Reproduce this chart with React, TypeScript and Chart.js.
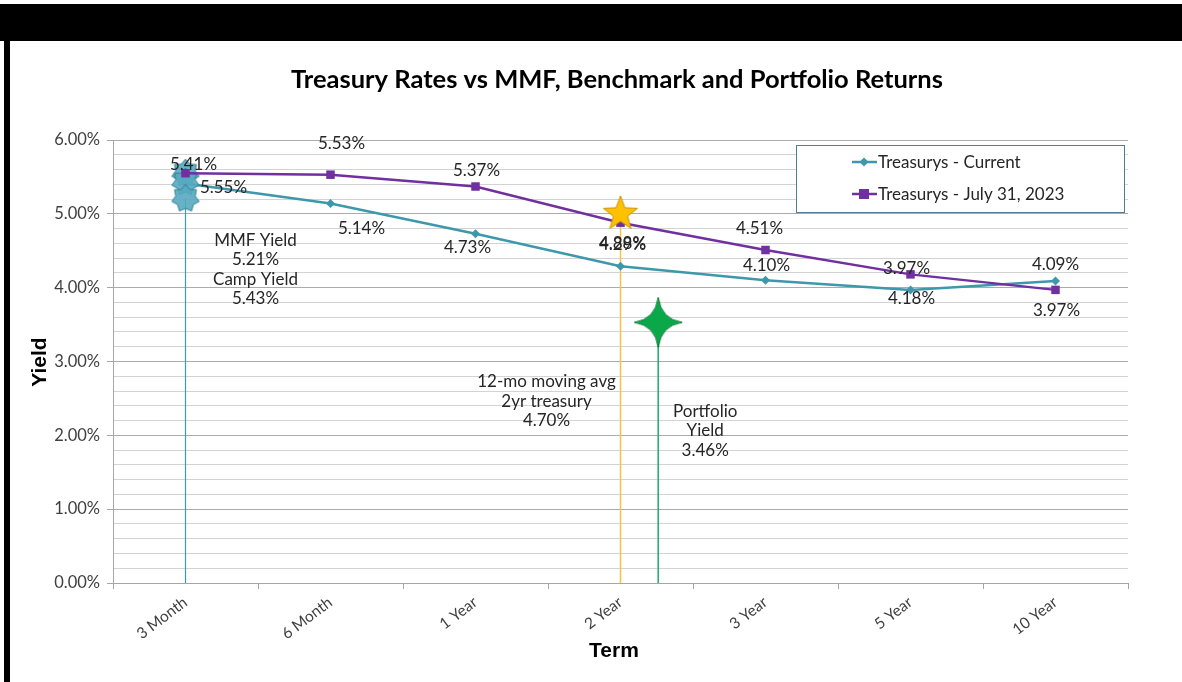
import React, { useEffect, useRef } from 'react';
import { Chart, registerables } from 'chart.js';

Chart.register(...registerables);

// ---------- data ----------
const categories = ['3 Month', '6 Month', '1 Year', '2 Year', '3 Year', '5 Year', '10 Year'];
const treasurysCurrent = [5.41, 5.14, 4.73, 4.29, 4.10, 3.97, 4.09];
const treasurysJuly2023 = [5.55, 5.53, 5.37, 4.88, 4.51, 4.18, 3.97];
const currentLabels = ['5.55%', '5.14%', '4.73%', '4.29%', '4.10%', '4.18%', '4.09%'];
const julyLabels = ['5.41%', '5.53%', '5.37%', '4.88%', '4.51%', '3.97%', '3.97%'];

// MMF / Camp markers at the 3 Month term
const mmfTerm = 0;
const mmfMarkers = [5.55, 5.43, 5.21];
const mmfText = ['MMF Yield', '5.21%', 'Camp Yield', '5.43%'];

// 12-mo moving average of the 2yr treasury (benchmark)
const benchTerm = 3;
const benchMarker = 5.0;
const benchText = ['12-mo moving avg', '2yr treasury', '4.70%'];

// Portfolio yield
const portTerm = 3.26;
const portMarker = 3.53;
const portText = ['Portfolio', 'Yield', '3.46%'];

const yMin = 0;
const yMax = 6;
const yMinorStep = 0.2;

const seriesNames = ['Treasurys - Current', 'Treasurys - July 31, 2023'];
const titleText = 'Treasury Rates vs MMF, Benchmark and Portfolio Returns';
const xTitle = 'Term';
const yTitle = 'Yield';

// ---------- layout / style ----------
const currentLabelOffsets = [[38, 4], [31, 25], [-8, 14], [2, -22], [1, -15], [1, 9], [0, -17]];
const julyLabelOffsets = [[8, -9], [11, -31], [1, -16], [2, 21], [-6, -21], [-4, -6], [1, 21]];

const TEAL = '#3E98AC';
const PURPLE = '#7030A0';
const FONT_FAMILY = 'Lato, "Open Sans", sans-serif';
const LABEL_FONT = '17px ' + FONT_FAMILY;
const TEXT_COLOR = '#262626';

function makeStar(points: number, rx: number, ry: number, inner: number, fill: string, stroke: string) {
  const w = Math.ceil(rx * 2 + 4);
  const h = Math.ceil(ry * 2 + 4);
  const c = document.createElement('canvas');
  c.width = w;
  c.height = h;
  const g = c.getContext('2d')!;
  g.translate(w / 2, h / 2);
  g.beginPath();
  const n = points * 2;
  for (let i = 0; i < n; i++) {
    const a = -Math.PI / 2 + (i * Math.PI) / points;
    const outer = i % 2 === 0;
    const x = Math.cos(a) * (outer ? rx : inner);
    const y = Math.sin(a) * (outer ? ry : inner);
    if (i === 0) g.moveTo(x, y);
    else g.lineTo(x, y);
  }
  g.closePath();
  g.fillStyle = fill;
  g.fill();
  g.strokeStyle = stroke;
  g.lineWidth = 1;
  g.stroke();
  return c;
}

function makeFourStar(rx: number, ry: number, k: number, fill: string, stroke: string) {
  const w = Math.ceil(rx * 2 + 4);
  const h = Math.ceil(ry * 2 + 4);
  const c = document.createElement('canvas');
  c.width = w;
  c.height = h;
  const g = c.getContext('2d')!;
  g.translate(w / 2, h / 2);
  g.beginPath();
  g.moveTo(0, -ry);
  g.quadraticCurveTo(k, -k, rx, 0);
  g.quadraticCurveTo(k, k, 0, ry);
  g.quadraticCurveTo(-k, k, -rx, 0);
  g.quadraticCurveTo(-k, -k, 0, -ry);
  g.closePath();
  g.fillStyle = fill;
  g.fill();
  g.strokeStyle = stroke;
  g.lineWidth = 1;
  g.stroke();
  return c;
}

function drawCenteredLines(ctx: CanvasRenderingContext2D, lines: string[], x: number, y0: number, gap: number) {
  lines.forEach((t, i) => ctx.fillText(t, x, y0 + i * gap));
}

const overlayPlugin = {
  id: 'overlay',
  afterDatasetsDraw(chart: any) {
    const ctx = chart.ctx as CanvasRenderingContext2D;
    const xs = chart.scales.x;
    const x2 = chart.scales.x2;
    const ys = chart.scales.y;
    ctx.save();
    ctx.font = LABEL_FONT;
    ctx.fillStyle = TEXT_COLOR;
    ctx.textAlign = 'center';
    ctx.textBaseline = 'middle';
    treasurysCurrent.forEach((v, i) => {
      const px = xs.getPixelForValue(i);
      const py = ys.getPixelForValue(v);
      ctx.fillText(currentLabels[i], px + currentLabelOffsets[i][0], py + currentLabelOffsets[i][1]);
    });
    treasurysJuly2023.forEach((v, i) => {
      const px = xs.getPixelForValue(i);
      const py = ys.getPixelForValue(v);
      ctx.fillText(julyLabels[i], px + julyLabelOffsets[i][0], py + julyLabelOffsets[i][1]);
    });
    // annotation blocks
    const mx = x2.getPixelForValue(mmfTerm);
    const my = ys.getPixelForValue(mmfMarkers[mmfMarkers.length - 1]);
    drawCenteredLines(ctx, mmfText, mx + 70, my + 42, 19.5);
    const bx = x2.getPixelForValue(benchTerm);
    const by = ys.getPixelForValue(benchMarker);
    drawCenteredLines(ctx, benchText, bx - 74, by + 168, 19.5);
    const ppx = x2.getPixelForValue(portTerm);
    const ppy = ys.getPixelForValue(portMarker);
    drawCenteredLines(ctx, portText, ppx + 47, ppy + 89, 19.5);
    ctx.restore();
  },
  afterDraw(chart: any) {
    const ctx = chart.ctx as CanvasRenderingContext2D;
    const area = chart.chartArea;
    ctx.save();
    // title
    ctx.fillStyle = '#000';
    ctx.textAlign = 'center';
    ctx.textBaseline = 'middle';
    ctx.font = 'bold 25.5px ' + FONT_FAMILY;
    ctx.fillText(titleText, 617, 80);
    // axis titles
    ctx.font = 'bold 21px "Liberation Sans", Arial, sans-serif';
    ctx.fillText(xTitle, 614, 651);
    ctx.save();
    ctx.translate(40, 362);
    ctx.rotate(-Math.PI / 2);
    ctx.fillText(yTitle, 0, 0);
    ctx.restore();
    // legend
    const lx = 796, ly = 145, lw = 328, lh = 67;
    ctx.fillStyle = '#fff';
    ctx.fillRect(lx, ly, lw, lh);
    ctx.strokeStyle = '#4F7F8E';
    ctx.lineWidth = 1;
    ctx.strokeRect(lx + 0.5, ly + 0.5, lw, lh);
    const rows = [
      { y: 162, color: TEAL, marker: 'diamond', name: seriesNames[0] },
      { y: 194, color: PURPLE, marker: 'square', name: seriesNames[1] },
    ];
    ctx.font = LABEL_FONT;
    ctx.textAlign = 'left';
    rows.forEach((r) => {
      ctx.strokeStyle = r.color;
      ctx.lineWidth = 2.5;
      ctx.beginPath();
      ctx.moveTo(852, r.y);
      ctx.lineTo(877, r.y);
      ctx.stroke();
      ctx.fillStyle = r.color;
      if (r.marker === 'diamond') {
        ctx.beginPath();
        ctx.moveTo(864, r.y - 4.5);
        ctx.lineTo(868.5, r.y);
        ctx.lineTo(864, r.y + 4.5);
        ctx.lineTo(859.5, r.y);
        ctx.closePath();
        ctx.fill();
      } else {
        ctx.fillRect(859, r.y - 5, 10, 10);
      }
      ctx.fillStyle = TEXT_COLOR;
      ctx.fillText(r.name, 878, r.y + 1);
    });
    ctx.restore();
  },
};

export default function App() {
  const ref = useRef<HTMLCanvasElement | null>(null);

  useEffect(() => {
    const canvas = ref.current;
    if (!canvas) return;
    const seal = makeStar(7, 14, 14, 10, 'rgba(86,170,192,0.9)', '#2F7F93');
    const goldStar = makeStar(5, 18, 18, 7.5, '#FFC000', '#C49400');
    const greenStar = makeFourStar(24, 25, 3, '#0BA84A', '#067A34');

    const yTicks: number[] = [];
    for (let v = yMin; v <= yMax + 1e-9; v += yMinorStep) yTicks.push(Math.round(v * 10) / 10);
    const isMajor = (v: number) => Math.abs(v - Math.round(v)) < 1e-6;

    const chart = new Chart(canvas, {
      type: 'line',
      data: {
        labels: categories,
        datasets: [
          {
            label: 'MMF drop',
            data: [{ x: mmfTerm, y: mmfMarkers[mmfMarkers.length - 1] }, { x: mmfTerm, y: 0 }],
            xAxisID: 'x2',
            borderColor: '#3A9DB3',
            borderWidth: 1.2,
            pointRadius: 0,
            order: 10,
          } as any,
          {
            label: 'Bench drop',
            data: [{ x: benchTerm, y: benchMarker }, { x: benchTerm, y: 0 }],
            xAxisID: 'x2',
            borderColor: '#F5C242',
            borderWidth: 1.5,
            pointRadius: 0,
            order: 10,
          } as any,
          {
            label: 'Portfolio drop',
            data: [{ x: portTerm, y: portMarker }, { x: portTerm, y: 0 }],
            xAxisID: 'x2',
            borderColor: '#1AAE6A',
            borderWidth: 1.5,
            pointRadius: 0,
            order: 10,
          } as any,
          {
            label: seriesNames[0],
            data: treasurysCurrent,
            borderColor: TEAL,
            backgroundColor: TEAL,
            borderWidth: 2.5,
            pointStyle: 'rectRot',
            pointRadius: 4.5,
            pointBorderWidth: 0,
            order: 9,
          },
          {
            label: 'MMF markers',
            data: mmfMarkers.map((v) => ({ x: mmfTerm, y: v })),
            xAxisID: 'x2',
            showLine: false,
            pointStyle: seal as any,
            pointRadius: 14,
            order: 8,
          } as any,
          {
            label: seriesNames[1],
            data: treasurysJuly2023,
            borderColor: PURPLE,
            backgroundColor: PURPLE,
            borderWidth: 2.5,
            pointStyle: 'rect',
            pointRadius: 6,
            pointBorderWidth: 0,
            order: 7,
          },
          {
            label: 'Benchmark',
            data: [{ x: benchTerm, y: benchMarker }],
            xAxisID: 'x2',
            showLine: false,
            pointStyle: goldStar as any,
            pointRadius: 18,
            order: 6,
          } as any,
          {
            label: 'Portfolio',
            data: [{ x: portTerm, y: portMarker }],
            xAxisID: 'x2',
            showLine: false,
            pointStyle: greenStar as any,
            pointRadius: 25,
            order: 6,
          } as any,
        ],
      },
      options: {
        responsive: false,
        animation: false,
        devicePixelRatio: 1,
        layout: { padding: { left: 20, top: 140, right: 54, bottom: 0 } },
        plugins: {
          legend: { display: false },
          title: { display: false },
          tooltip: { enabled: false },
        },
        scales: {
          x: {
            type: 'category',
            offset: true,
            afterFit: (s: any) => {
              s.height = 99;
            },
            grid: {
              display: true,
              drawOnChartArea: false,
              offset: true,
              tickLength: 6,
              color: '#A6A6A6',
            },
            border: { color: '#A6A6A6', width: 1 },
            ticks: {
              autoSkip: false,
              maxRotation: 37,
              minRotation: 37,
              padding: 4,
              color: '#404040',
              font: { family: FONT_FAMILY, size: 15.5 },
            },
          },
          x2: {
            type: 'linear',
            min: -0.5,
            max: categories.length - 0.5,
            display: false,
          },
          y: {
            type: 'linear',
            min: yMin,
            max: yMax,
            afterFit: (s: any) => {
              s.width = 93;
            },
            afterBuildTicks: (s: any) => {
              s.ticks = yTicks.map((v) => ({ value: v }));
            },
            grid: {
              color: (c: any) => (c.tick && isMajor(c.tick.value) ? '#ABABAB' : '#D3D3D3'),
              tickColor: (c: any) => (c.tick && isMajor(c.tick.value) ? '#A6A6A6' : 'rgba(0,0,0,0)'),
              tickLength: 6,
              lineWidth: 1,
            },
            border: { color: '#A6A6A6', width: 1 },
            ticks: {
              autoSkip: false,
              padding: 7,
              color: '#404040',
              font: { family: FONT_FAMILY, size: 16.5 },
              callback: (v: any) => (isMajor(Number(v)) ? Number(v).toFixed(2) + '%' : ''),
            },
          },
        },
      },
      plugins: [overlayPlugin],
    });
    return () => chart.destroy();
  }, []);

  return (
    <div style={{ position: 'fixed', left: 0, top: 0, width: 1182, height: 682, background: '#fff', overflow: 'hidden' }}>
      <canvas ref={ref} width={1182} height={682} style={{ position: 'absolute', left: 0, top: 0, width: 1182, height: 682 }} />
      <div style={{ position: 'absolute', left: 0, top: 4, width: 1182, height: 37, background: '#000' }} />
      <div style={{ position: 'absolute', left: 4, top: 40, width: 6, height: 642, background: '#000' }} />
    </div>
  );
}
